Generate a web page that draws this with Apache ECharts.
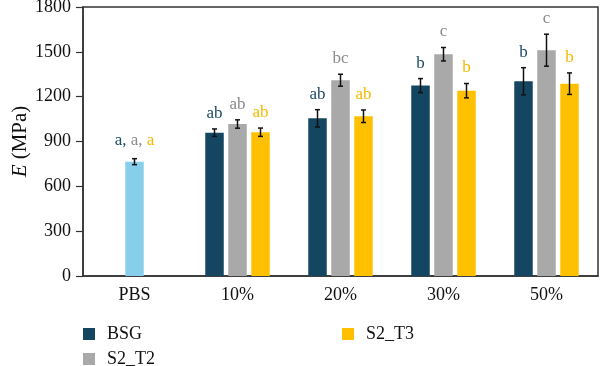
<!DOCTYPE html>
<html><head><meta charset="utf-8">
<script src="https://cdn.jsdelivr.net/npm/echarts@6/dist/echarts.min.js"></script>
<style>html,body{margin:0;padding:0;background:#fff}#c{width:600px;height:366px}</style>
</head><body><div id="c"></div>
<script>
const categories = ['PBS', '10%', '20%', '30%', '50%'];
const yTicks = [0, 300, 600, 900, 1200, 1500, 1800];
const pbsValue = [765, null, null, null, null];
const pbsErr = [20, null, null, null, null];
const bsgValues = [null, 959, 1055, 1274, 1303];
const bsgErr = [null, 25, 58, 47, 91];
const bsgLetters = [null, 'ab', 'ab', 'b', 'b'];
const t2Values = [null, 1017, 1310, 1484, 1511];
const t2Err = [null, 28, 40, 45, 107];
const t2Letters = [null, 'ab', 'bc', 'c', 'c'];
const t3Values = [null, 962, 1069, 1240, 1287];
const t3Err = [null, 28, 42, 48, 72];
const t3Letters = [null, 'ab', 'ab', 'b', 'b'];

const FONT = '"Liberation Serif", "DejaVu Serif", serif';
const C_BSG = '#154661', C_T2 = '#a9a9a9', C_T3 = '#ffc000', C_PBS = '#87ceeb';
const L_BSG = '#1b4a66', L_T2 = '#8a8a8a', L_T3 = '#f5b800';
const BAR_W = 18.5, GAP = 4.5;
const LFONT = '17px ' + FONT;

function errSeries(name, values, errs, letters, k, axisIdx, labelColor, rich) {
  const data = [];
  values.forEach((v, i) => { if (v != null) data.push([i, v, errs[i], letters ? letters[i] : '']); });
  return {
    type: 'custom', name: name, xAxisIndex: axisIdx, z: 10,
    data: data,
    renderItem: function (params, api) {
      const ci = api.value(0), v = api.value(1), e = api.value(2);
      const off = (k - 1) * (BAR_W + GAP);
      const hi = api.coord([ci, v + e]), lo = api.coord([ci, v - e]);
      const x = hi[0] + off, cap = 2.5;
      const st = { stroke: '#111', lineWidth: 1.5 };
      const children = [
        { type: 'line', shape: { x1: x, y1: hi[1], x2: x, y2: lo[1] }, style: st },
        { type: 'line', shape: { x1: x - cap, y1: hi[1], x2: x + cap, y2: hi[1] }, style: st },
        { type: 'line', shape: { x1: x - cap, y1: lo[1], x2: x + cap, y2: lo[1] }, style: st }
      ];
      const txt = rich ? rich.text : data[params.dataIndex][3];
      children.push({
        type: 'text', x: x, y: hi[1] - (rich ? 10 : 7),
        style: { text: txt, fill: labelColor, font: LFONT, align: 'center', verticalAlign: 'bottom', rich: rich ? rich.rich : undefined }
      });
      return { type: 'group', children: children };
    }
  };
}

const chart = echarts.init(document.getElementById('c'));
const axisBase = { type: 'category', data: categories };
const legendText = { fontFamily: FONT, fontSize: 18, lineHeight: 18, color: '#111', padding: [0, 0, 0, 7] };
const legendBase = { padding: 0, itemWidth: 12, itemHeight: 12, icon: 'rect', textStyle: legendText };
chart.setOption({
  animation: false,
  grid: { left: 83, right: 2, top: 7, bottom: 90, show: true, borderColor: '#333', borderWidth: 1.5, containLabel: false, outerBoundsMode: 'none' },
  legend: [
    Object.assign({ data: ['BSG'], left: 83, top: 325 }, legendBase),
    Object.assign({ data: ['S2_T2'], left: 83, top: 350 }, legendBase),
    Object.assign({ data: ['S2_T3'], left: 342, top: 325 }, legendBase)
  ],
  xAxis: [
    Object.assign({}, axisBase, {
      axisLine: { lineStyle: { color: '#333', width: 1.5 } }, axisTick: { show: false },
      axisLabel: { fontFamily: FONT, fontSize: 18, color: '#111', margin: 10 }
    }),
    Object.assign({}, axisBase, { show: false, position: 'bottom' })
  ],
  yAxis: {
    type: 'value', min: yTicks[0], max: yTicks[yTicks.length - 1], interval: 300,
    name: '{i|E} (MPa)', nameLocation: 'middle', nameGap: 52, nameRotate: 90, nameMoveOverlap: false,
    nameTextStyle: { fontFamily: FONT, fontSize: 21, color: '#111', rich: { i: { fontFamily: FONT, fontSize: 21, fontStyle: 'italic', color: '#111' } } },
    axisLine: { show: true, lineStyle: { color: '#333', width: 1.5 } },
    axisTick: { show: true, length: 7, lineStyle: { color: '#333', width: 1.2 } },
    splitLine: { show: false },
    axisLabel: { fontFamily: FONT, fontSize: 18, color: '#111', margin: 12, formatter: v => String(v) }
  },
  series: [
    { type: 'bar', name: 'BSG', data: bsgValues, barWidth: BAR_W, barGap: (GAP / BAR_W * 100) + '%', itemStyle: { color: C_BSG } },
    { type: 'bar', name: 'S2_T2', data: t2Values, barWidth: BAR_W, barGap: (GAP / BAR_W * 100) + '%', itemStyle: { color: C_T2 } },
    { type: 'bar', name: 'S2_T3', data: t3Values, barWidth: BAR_W, barGap: (GAP / BAR_W * 100) + '%', itemStyle: { color: C_T3 } },
    { type: 'bar', name: 'PBS', xAxisIndex: 1, data: pbsValue, barWidth: BAR_W, itemStyle: { color: C_PBS } },
    errSeries('errBSG', bsgValues, bsgErr, bsgLetters, 0, 0, L_BSG),
    errSeries('errT2', t2Values, t2Err, t2Letters, 1, 0, L_T2),
    errSeries('errT3', t3Values, t3Err, t3Letters, 2, 0, L_T3),
    errSeries('errPBS', pbsValue, pbsErr, null, 1, 1, '#111', {
      text: '{a|a,} {b|a,} {c|a}',
      rich: { a: { fill: L_BSG, color: L_BSG, font: LFONT }, b: { fill: L_T2, color: L_T2, font: LFONT }, c: { fill: L_T3, color: L_T3, font: LFONT } }
    })
  ]
});
</script></body></html>
